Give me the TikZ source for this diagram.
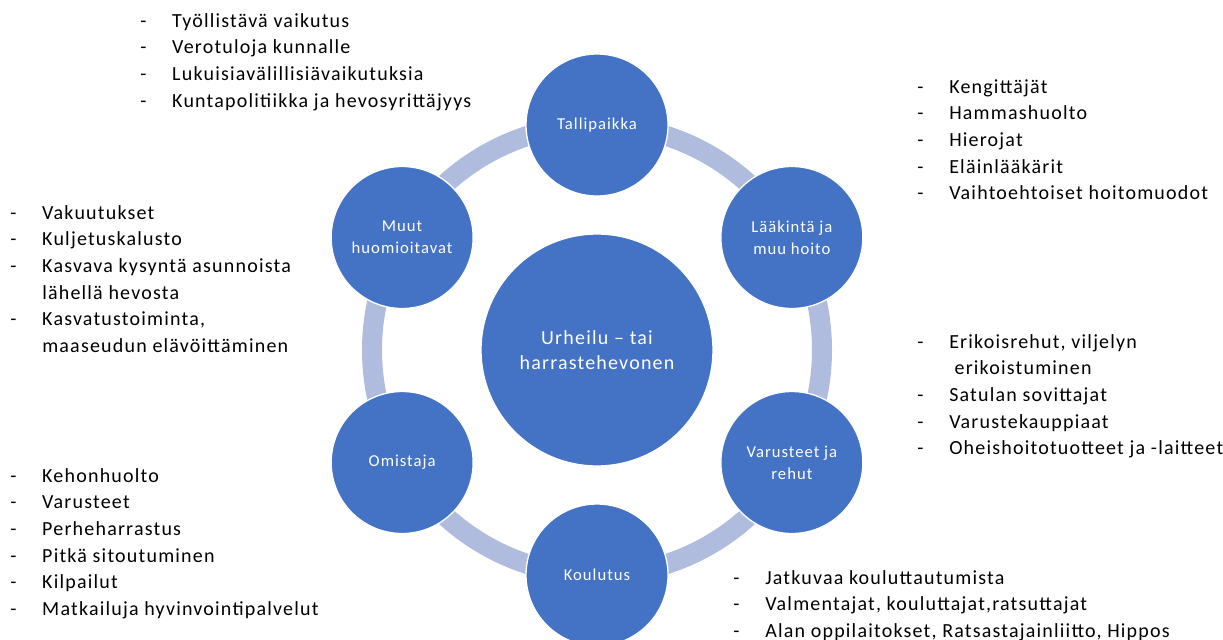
\documentclass[tikz,border=0pt]{standalone}
\usepackage{fontspec}
\setmainfont{Carlito}[LetterSpace=6]
\usepackage{array}
\usetikzlibrary{calc}
\definecolor{hubblue}{HTML}{4472C4}
\definecolor{ringblue}{RGB}{175,188,222}
\tikzset{
  hub/.style={circle,fill=hubblue,draw=white,line width=1pt,text=white,align=center,inner sep=0pt},
  sat/.style={hub,minimum size=106.5pt,font=\fontsize{12.5}{16.5}\selectfont},
  lst/.style={anchor=base west,inner sep=0pt,font=\fontsize{15}{20}\selectfont}
}
\newcommand{\dashlist}[1]{\begin{tabular}[t]{@{}p{24pt}@{}l@{}}#1\end{tabular}}

\begin{document}
\begin{tikzpicture}[x=0.75pt,y=-0.75pt]
  \useasboundingbox (0,0) rectangle (1223,639);

  \coordinate (c) at (597,350);
  \draw[ringblue,line width=15pt] (c) circle (225);

  \node[hub,minimum size=174pt,font=\fontsize{15}{18.75}\selectfont] (horse) at (c) {Urheilu -- tai\\harrastehevonen};

  \foreach \n/\ang/\txt in {talli/-90/{Tallipaikka},laak/-30/{Lääkintä ja\\muu hoito},varu/30/{Varusteet ja\\rehut},koul/90/{Koulutus},omis/150/{Omistaja},muut/210/{Muut\\huomioitavat}}{
    \node[sat] (\n) at ($(c)+(\ang:225)$) {\txt};
  }

  % lists round the ring
  \node[lst] (ltalli) at (140,27) {\dashlist{
    - & Työllistävä vaikutus\\
    - & Verotuloja kunnalle\\
    - & Lukuisiavälillisiävaikutuksia\\
    - & Kuntapolitiikka ja hevosyrittäjyys}};
  \node[lst] (llaak) at (917,93) {\dashlist{
    - & Kengittäjät\\
    - & Hammashuolto\\
    - & Hierojat\\
    - & Eläinlääkärit\\
    - & Vaihtoehtoiset hoitomuodot}};
  \node[lst] (lmuut) at (10,219) {\dashlist{
    - & Vakuutukset\\
    - & Kuljetuskalusto\\
    - & Kasvava kysyntä asunnoista\\
      & lähellä hevosta\\
    - & Kasvatustoiminta,\\
      & maaseudun elävöittäminen}};
  \node[lst] (lvaru) at (917,348) {\dashlist{
    - & Erikoisrehut, viljelyn\\
      & \hspace{4pt}erikoistuminen\\
    - & Satulan sovittajat\\
    - & Varustekauppiaat\\
    - & Oheishoitotuotteet ja -laitteet}};
  \node[lst] (lomis) at (10,482) {\dashlist{
    - & Kehonhuolto\\
    - & Varusteet\\
    - & Perheharrastus\\
    - & Pitkä sitoutuminen\\
    - & Kilpailut\\
    - & Matkailuja hyvinvointipalvelut}};
  \node[lst] (lkoul) at (733,584) {\dashlist{
    - & Jatkuvaa kouluttautumista\\
    - & Valmentajat, kouluttajat,ratsuttajat\\
    - & Alan oppilaitokset, Ratsastajainliitto, Hippos}};
\end{tikzpicture}
\end{document}
